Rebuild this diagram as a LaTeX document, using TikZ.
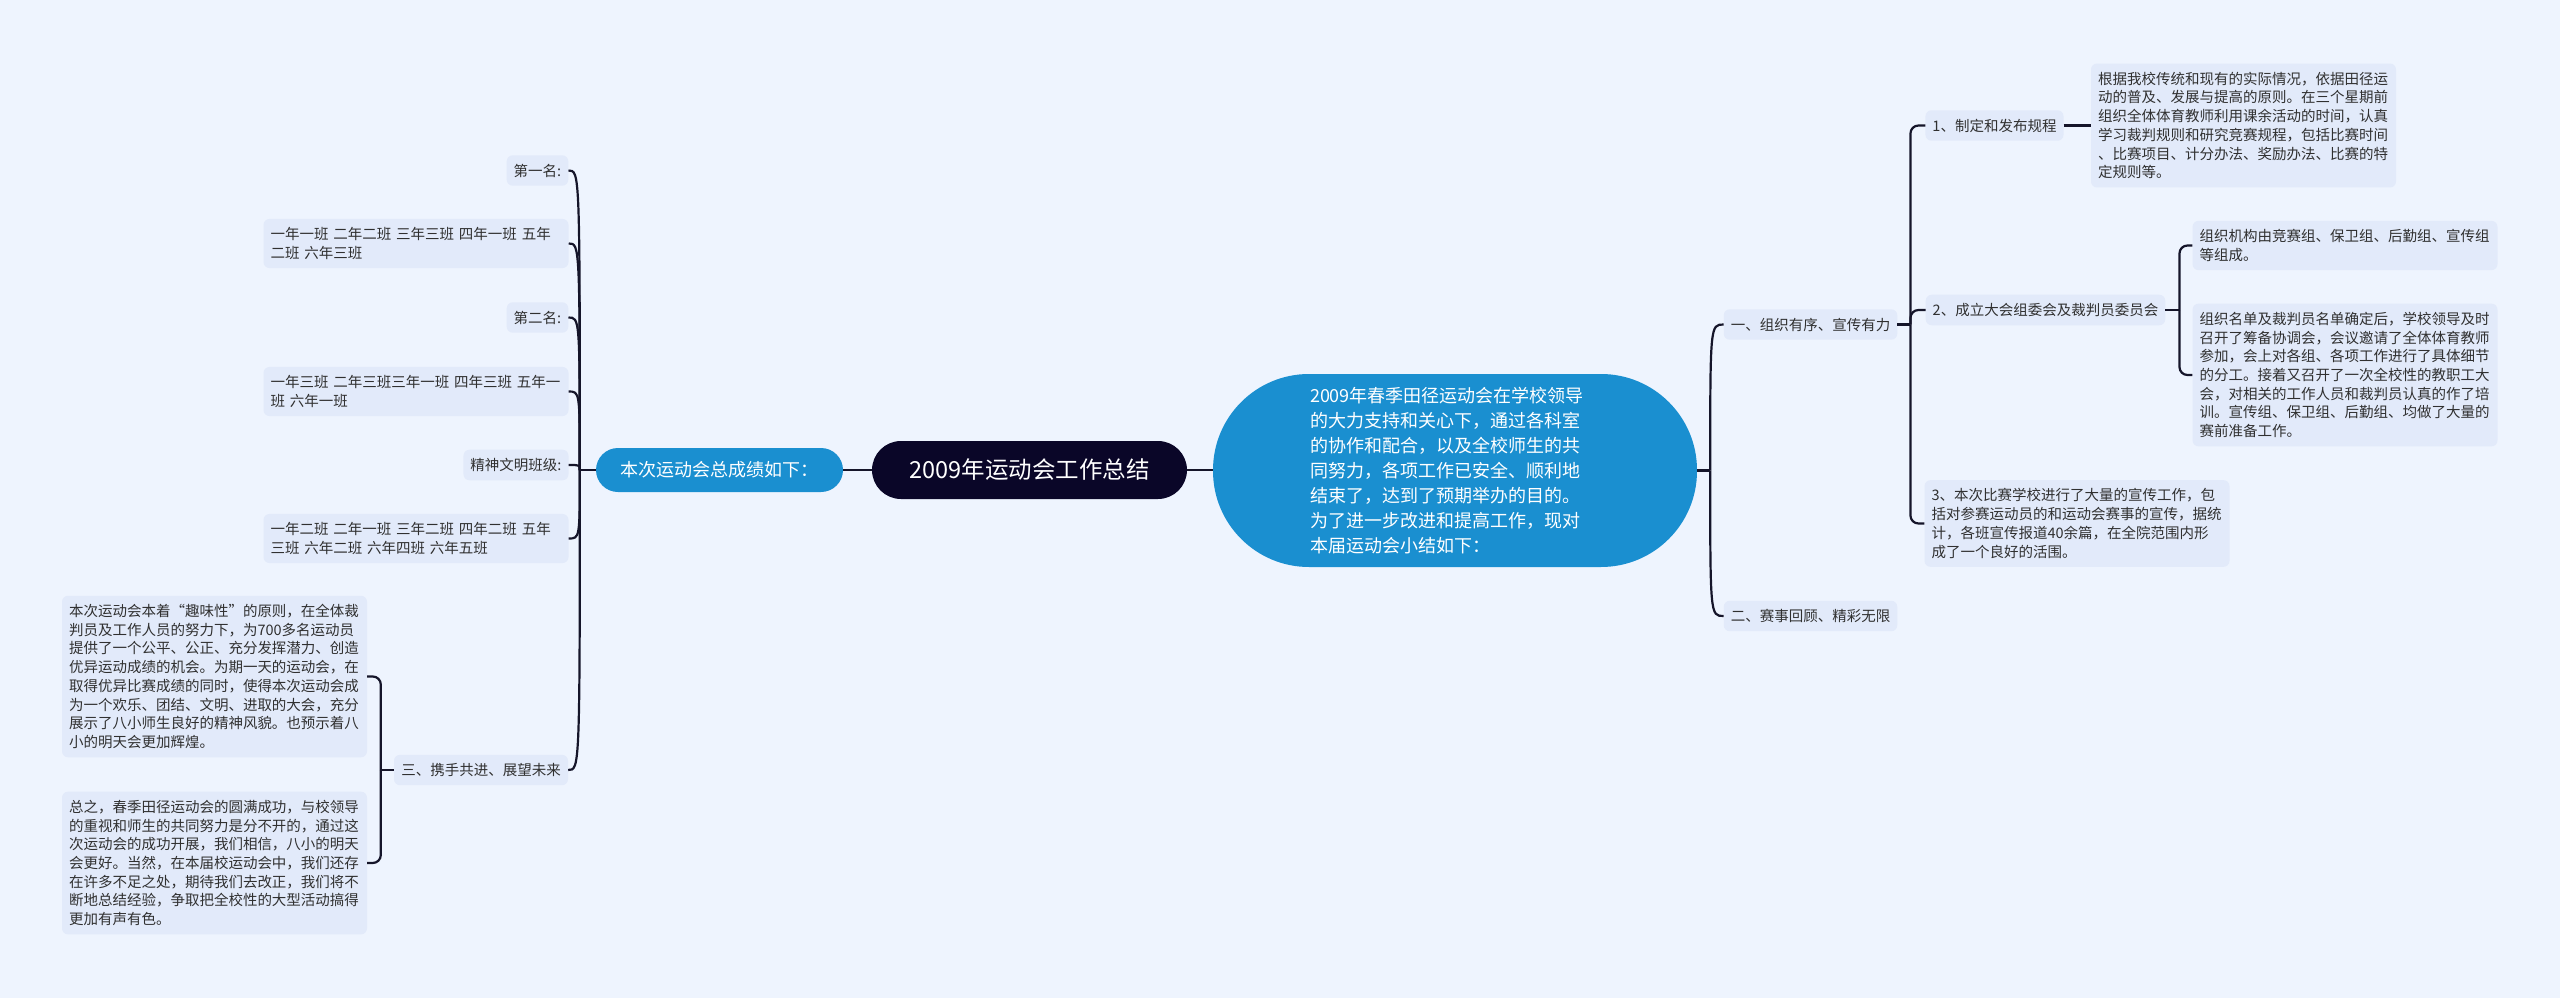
\documentclass[tikz,border=0pt]{standalone}
\usepackage{fontspec}
\newfontfamily\cjk{Noto Sans CJK SC}
\usepackage{tikz}
\usetikzlibrary{positioning,calc}
\definecolor{bgcol}{HTML}{EEF4FE}
\definecolor{leafcol}{HTML}{E2EAFA}
\definecolor{hubcol}{HTML}{1A8FD0}
\definecolor{rootcol}{HTML}{0A0628}
\definecolor{linecol}{HTML}{15152A}
\definecolor{txtcol}{HTML}{303030}

\begin{document}
\begin{tikzpicture}[
  x=1pt, y=-1pt,
  leaf/.style={rectangle, fill=leafcol, rounded corners=6pt, inner xsep=7pt, inner ysep=8.5pt, text=txtcol, font=\cjk\fontsize{14.5}{18.7}\selectfont},
  para/.style={leaf, align=left, text width=#1},
  para/.default=291pt,
  hub/.style={rectangle, fill=hubcol, text=white, inner sep=0pt},
  root/.style={rectangle, fill=rootcol, text=white, rounded corners=29pt, minimum width=315pt, minimum height=58pt, font=\cjk\fontsize{23.5}{28}\selectfont},
  link/.style={draw=linecol, line width=1.3pt},
  branch/.style={draw=linecol, line width=2.2pt},
]
  \fill[bgcol] (0,0) rectangle (2560,998);
  \useasboundingbox (0,0) rectangle (2560,998);

  \node[root] (root) at (1029.5,470) {2009年运动会工作总结};
  \node[hub, rounded corners=22pt, minimum width=247pt, minimum height=44pt, font=\cjk\fontsize{18}{22}\selectfont] (summ) at (719.5,470) {本次运动会总成绩如下：};
  \node[hub, rounded corners=96pt, minimum width=484pt, minimum height=193pt, align=left, text width=290pt, font=\cjk\fontsize{18}{25.1}\selectfont] (intro) at (1455,470.5) {2009年春季田径运动会在学校领导\\的大力支持和关心下，通过各科室\\的协作和配合，以及全校师生的共\\同努力，各项工作已安全、顺利地\\结束了，达到了预期举办的目的。\\为了进一步改进和提高工作，现对\\本届运动会小结如下：};

  \node[leaf, minimum width=61pt] (n1) at (537.5,170.5) {第一名:};
  \node[para] (c1) at (416,243.5) {一年一班 二年二班 三年三班 四年一班 五年\\二班 六年三班};
  \node[leaf, minimum width=61pt] (n2) at (537.5,317.5) {第二名:};
  \node[para] (c2) at (416,391.5) {一年三班 二年三班三年一班 四年三班 五年一\\班 六年一班};
  \node[leaf, minimum width=104pt] (n3) at (516,465) {精神文明班级:};
  \node[para] (c3) at (416,538.5) {一年二班 二年一班 三年二班 四年二班 五年\\三班 六年二班 六年四班 六年五班};
  \node[leaf, minimum width=174pt] (san) at (481,770) {三、携手共进、展望未来};
  \node[para] (b1) at (214.5,676.5) {本次运动会本着“趣味性”的原则，在全体裁\\判员及工作人员的努力下，为700多名运动员\\提供了一个公平、公正、充分发挥潜力、创造\\优异运动成绩的机会。为期一天的运动会，在\\取得优异比赛成绩的同时，使得本次运动会成\\为一个欢乐、团结、文明、进取的大会，充分\\展示了八小师生良好的精神风貌。也预示着八\\小的明天会更加辉煌。};
  \node[para] (b2) at (214.5,863) {总之，春季田径运动会的圆满成功，与校领导\\的重视和师生的共同努力是分不开的，通过这\\次运动会的成功开展，我们相信，八小的明天\\会更好。当然，在本届校运动会中，我们还存\\在许多不足之处，期待我们去改正，我们将不\\断地总结经验，争取把全校性的大型活动搞得\\更加有声有色。};

  \node[leaf, minimum width=173pt] (yi) at (1810.5,324.5) {一、组织有序、宣传有力};
  \node[leaf, minimum width=173pt] (er) at (1810.5,616) {二、赛事回顾、精彩无限};
  \node[leaf, minimum width=137pt] (s1) at (1994.5,125.5) {1、制定和发布规程};
  \node[leaf, minimum width=239pt] (s2) at (2045.5,310) {2、成立大会组委会及裁判员委员会};
  \node[para] (s3) at (2077,523.5) {3、本次比赛学校进行了大量的宣传工作，包\\括对参赛运动员的和运动会赛事的宣传，据统\\计，各班宣传报道40余篇，在全院范围内形\\成了一个良好的活围。};
  \node[para] (r1) at (2243.5,125.5) {根据我校传统和现有的实际情况，依据田径运\\动的普及、发展与提高的原则。在三个星期前\\组织全体体育教师利用课余活动的时间，认真\\学习裁判规则和研究竞赛规程，包括比赛时间\\、比赛项目、计分办法、奖励办法、比赛的特\\定规则等。};
  \node[para] (r2a) at (2345,245.5) {组织机构由竞赛组、保卫组、后勤组、宣传组\\等组成。};
  \node[para] (r2b) at (2345,375) {组织名单及裁判员名单确定后，学校领导及时\\召开了筹备协调会，会议邀请了全体体育教师\\参加，会上对各组、各项工作进行了具体细节\\的分工。接着又召开了一次全校性的教职工大\\会，对相关的工作人员和裁判员认真的作了培\\训。宣传组、保卫组、后勤组、均做了大量的\\赛前准备工作。};

  \draw[link] (summ.east) -- (root.west);
  \draw[link] (root.east) -- (intro.west |- root.east);

  \draw[branch] (summ.west) -- ++(-16,0) coordinate (lt);
  \draw[branch] (lt) .. controls (lt |- n1.east) .. (n1.east);
  \draw[branch] (lt) .. controls (lt |- c1.east) .. (c1.east);
  \draw[branch] (lt) .. controls (lt |- n2.east) .. (n2.east);
  \draw[branch] (lt) .. controls (lt |- c2.east) .. (c2.east);
  \draw[branch] (lt) .. controls (lt |- n3.east) .. (n3.east);
  \draw[branch] (lt) .. controls (lt |- c3.east) .. (c3.east);
  \draw[branch] (lt) .. controls (lt |- san.east) .. (san.east);

  \draw[branch] (san.west) -- ++(-13,0) coordinate (st);
  \draw[branch, rounded corners=8pt] (st) |- (b1.east);
  \draw[branch, rounded corners=8pt] (st) |- (b2.east);

  \draw[branch] (intro.east) -- ++(13,0) coordinate (rt);
  \draw[branch] (rt) .. controls (rt |- yi.west) .. (yi.west);
  \draw[branch] (rt) .. controls (rt |- er.west) .. (er.west);

  \draw[branch] (yi.east) -- ++(13,0) coordinate (yt);
  \draw[branch, rounded corners=8pt] (yt) |- (s1.west);
  \draw[branch, rounded corners=8pt] (yt) |- (s2.west);
  \draw[branch, rounded corners=8pt] (yt) |- (s3.west);
  \draw[branch] (s1.east) -- (r1.west |- s1.east);

  \draw[branch] (s2.east) -- ++(14,0) coordinate (bt);
  \draw[branch, rounded corners=8pt] (bt) |- (r2a.west);
  \draw[branch, rounded corners=8pt] (bt) |- (r2b.west);
\end{tikzpicture}
\end{document}
